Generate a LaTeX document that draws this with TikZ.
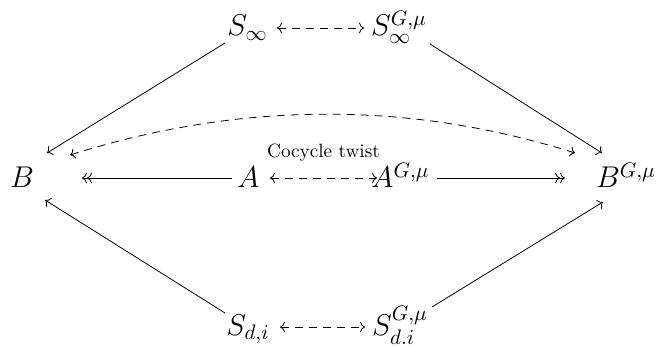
\RequirePackage{fix-cm}
\documentclass[tikz,border=0pt]{standalone}
\usepackage{amsmath,amssymb}
\usetikzlibrary{arrows.meta}

\begin{document}
\begin{tikzpicture}[x=0.5pt, y=-0.5pt, >={Computer Modern Rightarrow},
    every node/.style={font=\fontsize{15}{18}\selectfont, inner sep=0pt, anchor=base},
    map/.style={->, line width=0.4pt},
    onto/.style={->>, line width=0.4pt},
    dashmap/.style={<->, line width=0.4pt, dash pattern=on 4pt off 3pt}]
    \useasboundingbox (0,0) rectangle (658,347);

    % top, middle and bottom rows
    \node (Sinf)  at (247.5,36) {$S_\infty$};
    \node (SinfG) at (399,36)   {$S_\infty^{G,\mu}$};
    \node (B)     at (22,188)   {$B$};
    \node (A)     at (248.5,188) {$A$};
    \node (AG)    at (400.5,188) {$A^{G,\mu}$};
    \node (BG)    at (626,188)  {$B^{G,\mu}$};
    \node (Sdi)   at (248,335)  {$S_{d,i}$};
    \node (SdiG)  at (400,335)  {$S^{G,\mu}_{d.i}$};

    \draw[onto] ([shift={(-16.5,-10)}]A.base) -- ([shift={(60,-10)}]B.base);
    \draw[onto] ([shift={(36.5,-10)}]AG.base) -- ([shift={(-61,-10)}]BG.base);
    \draw[dashmap] ([shift={(21.5,-10)}]A.base) -- ([shift={(-23.5,-10)}]AG.base)
        node[pos=0.5, yshift=10pt, font=\fontsize{9.6}{11}\selectfont] (twist) {Cocycle twist};

    \draw[dashmap] ([shift={(29.5,-8)}]Sinf.base) -- ([shift={(-35,-8)}]SinfG.base);
    \draw[dashmap] ([shift={(32,-8)}]Sdi.base) -- ([shift={(-35,-8)}]SdiG.base);

    \draw[map] ([shift={(-22.5,7)}]Sinf.base) -- ([shift={(25,-35)}]B.base);
    \draw[map] ([shift={(31,8)}]SinfG.base) -- ([shift={(-24,-35)}]BG.base);
    \draw[map] ([shift={(-23,-22)}]Sdi.base) -- ([shift={(23,12)}]B.base);
    \draw[map] ([shift={(32,-28)}]SdiG.base) -- ([shift={(-23,14)}]BG.base);

    \draw[dashmap] ([shift={(48,-33)}]B.base) .. controls +(168,-53) and +(-168,-53) .. ([shift={(-51,-35)}]BG.base);
\end{tikzpicture}
\end{document}
